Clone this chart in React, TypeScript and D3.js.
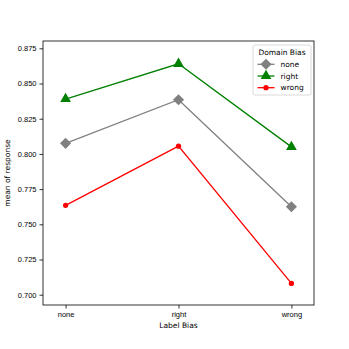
import { useRef, useEffect } from 'react'
import * as d3 from 'd3'

const categories = ['none', 'right', 'wrong']
const seriesNames = ['none', 'right', 'wrong']
const noneValues = [0.8075, 0.8385, 0.7625]
const rightValues = [0.839, 0.864, 0.805]
const wrongValues = [0.7635, 0.8055, 0.708]
const yTicks = [0.7, 0.725, 0.75, 0.775, 0.8, 0.825, 0.85, 0.875]
const colors = ['#808080', '#008000', '#ff0000']
const shapes = ['diamond', 'triangle', 'circle']

export default function App() {
  const svgRef = useRef<SVGSVGElement>(null)

  useEffect(() => {
    const W = 349
    const H = 349
    const fs = '7.5px'
    const m = { left: 43, top: 41, right: 314, bottom: 305 }
    const svg = d3.select(svgRef.current)
    svg.selectAll('*').remove()
    svg.attr('width', W).attr('height', H)
      .style('font-family', 'DejaVu Sans, sans-serif')

    const x = d3.scaleLinear().domain([-0.2, 2.2]).range([m.left, m.right])
    const y = d3.scaleLinear().domain([0.6927, 0.8802]).range([m.bottom, m.top])

    //axes
    const yAxis = d3.axisLeft(y).tickValues(yTicks).tickFormat(d3.format('.3f')).tickSizeOuter(0).tickSize(3.5).tickPadding(3)
    const xAxis = d3.axisBottom(x).tickValues([0, 1, 2]).tickFormat((d) => categories[+d]).tickSizeOuter(0).tickSize(3.5).tickPadding(3)
    const gy = svg.append('g').attr('transform', `translate(${m.left},0)`).call(yAxis)
    const gx = svg.append('g').attr('transform', `translate(0,${m.bottom})`).call(xAxis)
    for (const g of [gx, gy]) {
      g.select('.domain').remove()
      g.selectAll('text').style('font-size', fs).attr('fill', '#000')
      g.selectAll('line').attr('stroke', '#000').attr('stroke-width', 0.8)
    }

    svg.append('rect')
      .attr('x', m.left).attr('y', m.top)
      .attr('width', m.right - m.left).attr('height', m.bottom - m.top)
      .attr('fill', 'none').attr('stroke', '#000').attr('stroke-width', 0.8)

    svg.append('text').attr('x', (m.left + m.right) / 2).attr('y', 328)
      .attr('text-anchor', 'middle').style('font-size', fs).text('Label Bias')
    svg.append('text').attr('transform', `translate(10,${(m.top + m.bottom) / 2}) rotate(-90)`)
      .attr('text-anchor', 'middle').style('font-size', fs).text('mean of response')

    const symbolFor = (s: string) => {
      if (s === 'diamond') return d3.symbol().type(d3.symbolSquare).size(62)()
      if (s === 'triangle') return d3.symbol().type(d3.symbolTriangle).size(50)()
      return d3.symbol().type(d3.symbolCircle).size(22)()
    }

    const allSeries = [noneValues, rightValues, wrongValues]
    const line = d3.line<number>().x((d, i) => x(i)).y((d) => y(d))
    allSeries.forEach((vals, si) => {
      svg.append('path').datum(vals).attr('d', line)
        .attr('fill', 'none').attr('stroke', colors[si]).attr('stroke-width', 1.3)
      svg.selectAll(`.pt${si}`).data(vals).join('path')
        .attr('class', `pt${si}`)
        .attr('d', symbolFor(shapes[si]))
        .attr('transform', (d, i) => `translate(${x(i)},${y(d)})${shapes[si] === 'diamond' ? ' rotate(45)' : ''}`)
        .attr('fill', colors[si])
    })

    //legend
    const lg = svg.append('g')
    lg.append('rect').attr('x', 253).attr('y', 45).attr('width', 58).attr('height', 50)
      .attr('rx', 2).attr('fill', '#fff').attr('fill-opacity', 0.8).attr('stroke', '#d0d0d0').attr('stroke-width', 0.8)
    lg.append('text').attr('x', 282).attr('y', 54.5).attr('text-anchor', 'middle')
      .style('font-size', fs).text('Domain Bias')
    seriesNames.forEach((name, i) => {
      const ly = 64.3 + i * 11.7
      lg.append('line').attr('x1', 257.5).attr('x2', 274.5).attr('y1', ly).attr('y2', ly)
        .attr('stroke', colors[i]).attr('stroke-width', 1.3)
      lg.append('path').attr('d', symbolFor(shapes[i]))
        .attr('transform', `translate(266,${ly})${shapes[i] === 'diamond' ? ' rotate(45)' : ''}`)
        .attr('fill', colors[i])
      lg.append('text').attr('x', 280.5).attr('y', ly + 2.7).style('font-size', fs).text(name)
    })
  }, [])

  return (
    <div style={{ position: 'absolute', left: 0, top: 0 }}>
      <svg ref={svgRef}></svg>
    </div>
  )
}
